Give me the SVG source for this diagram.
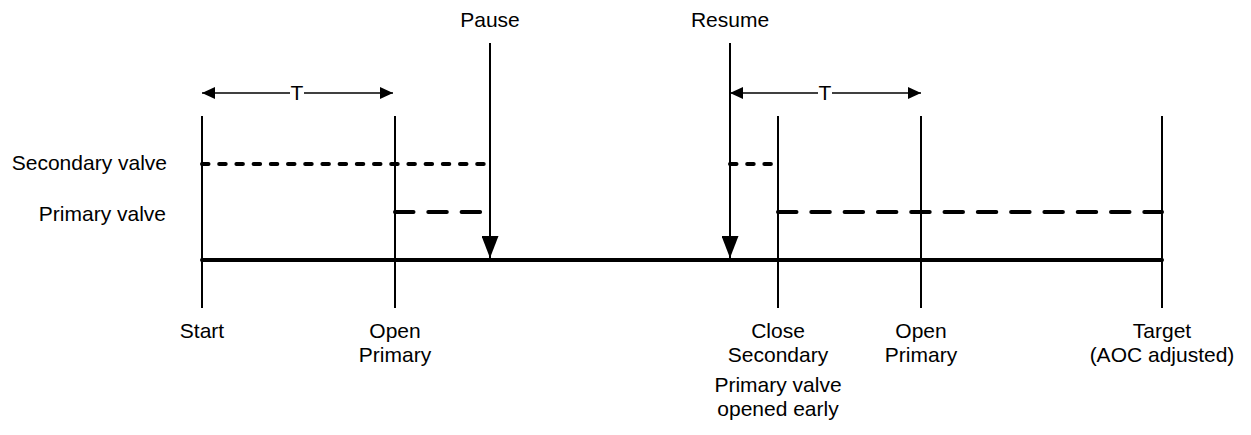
<svg xmlns="http://www.w3.org/2000/svg" width="1251" height="435" viewBox="0 0 1251 435">
<style>
text{font-family:"Liberation Sans",Arial,sans-serif;font-size:21px;fill:#000}
.c{text-anchor:middle}
.r{text-anchor:end}
.tick{stroke:#000;stroke-width:2;fill:none}
.axis{stroke:#000;stroke-width:4;stroke-linecap:round;fill:none}
.dot{stroke:#000;stroke-width:4;stroke-linecap:round;stroke-dasharray:6.5 10.7;fill:none}
.dash{stroke:#000;stroke-width:4;stroke-linecap:round;stroke-dasharray:18.5 14.8;fill:none}
.span{stroke:#000;stroke-width:1.5;fill:none}
.ev{stroke:#000;stroke-width:2;fill:none}
</style>
<defs>
<marker id="sa" markerWidth="14" markerHeight="12" refX="13" refY="6" orient="auto-start-reverse" markerUnits="userSpaceOnUse">
<path d="M0,0 L13,6 L0,12 Z" fill="#000"/>
</marker>
<marker id="big" markerWidth="23" markerHeight="17" refX="22" refY="8.5" orient="auto" markerUnits="userSpaceOnUse">
<path d="M0,0 L22,8.5 L0,17 Z" fill="#000"/>
</marker>
</defs>
<g id="labels-left">
<text class="r" x="167" y="170">Secondary valve</text>
<text class="r" x="166" y="221">Primary valve</text>
</g>
<g id="timeline">
<line class="axis" x1="202" y1="260" x2="1162" y2="260"/>
</g>
<g id="node-start">
<line class="tick" x1="202" y1="116" x2="202" y2="308"/>
<text class="c" x="202" y="338">Start</text>
</g>
<g id="node-open1">
<line class="tick" x1="395" y1="116" x2="395" y2="308"/>
<text class="c" x="395" y="338">Open</text>
<text class="c" x="395" y="362">Primary</text>
</g>
<g id="node-pause">
<text class="c" x="490" y="27">Pause</text>
</g>
<g id="node-resume">
<text class="c" x="730" y="27">Resume</text>
</g>
<g id="node-close">
<line class="tick" x1="778" y1="116" x2="778" y2="308"/>
<text class="c" x="778" y="338">Close</text>
<text class="c" x="778" y="362">Secondary</text>
<text class="c" x="778" y="392">Primary valve</text>
<text class="c" x="778" y="416">opened early</text>
</g>
<g id="node-open2">
<line class="tick" x1="921" y1="116" x2="921" y2="308"/>
<text class="c" x="921" y="338">Open</text>
<text class="c" x="921" y="362">Primary</text>
</g>
<g id="node-target">
<line class="tick" x1="1162" y1="116" x2="1162" y2="308"/>
<text class="c" x="1162" y="338">Target</text>
<text class="c" x="1162" y="362">(AOC adjusted)</text>
</g>
<g id="valves">
<line class="dot" x1="202" y1="164" x2="487" y2="164"/>
<line class="dash" x1="395" y1="212" x2="484" y2="212"/>
<line class="dot" x1="730" y1="164" x2="772" y2="164"/>
<line class="dash" x1="778" y1="212" x2="1162" y2="212"/>
</g>
<g id="connectors">
<line class="span" x1="290" y1="93" x2="202" y2="93" marker-end="url(#sa)"/>
<line class="span" x1="304" y1="93" x2="393" y2="93" marker-end="url(#sa)"/>
<text class="c" x="297" y="100">T</text>
<line class="span" x1="818" y1="93" x2="730" y2="93" marker-end="url(#sa)"/>
<line class="span" x1="832" y1="93" x2="921" y2="93" marker-end="url(#sa)"/>
<text class="c" x="825" y="100">T</text>
<line class="ev" x1="490" y1="43" x2="490" y2="258" marker-end="url(#big)"/>
<line class="ev" x1="730" y1="43" x2="730" y2="258" marker-end="url(#big)"/>
</g>
</svg>
